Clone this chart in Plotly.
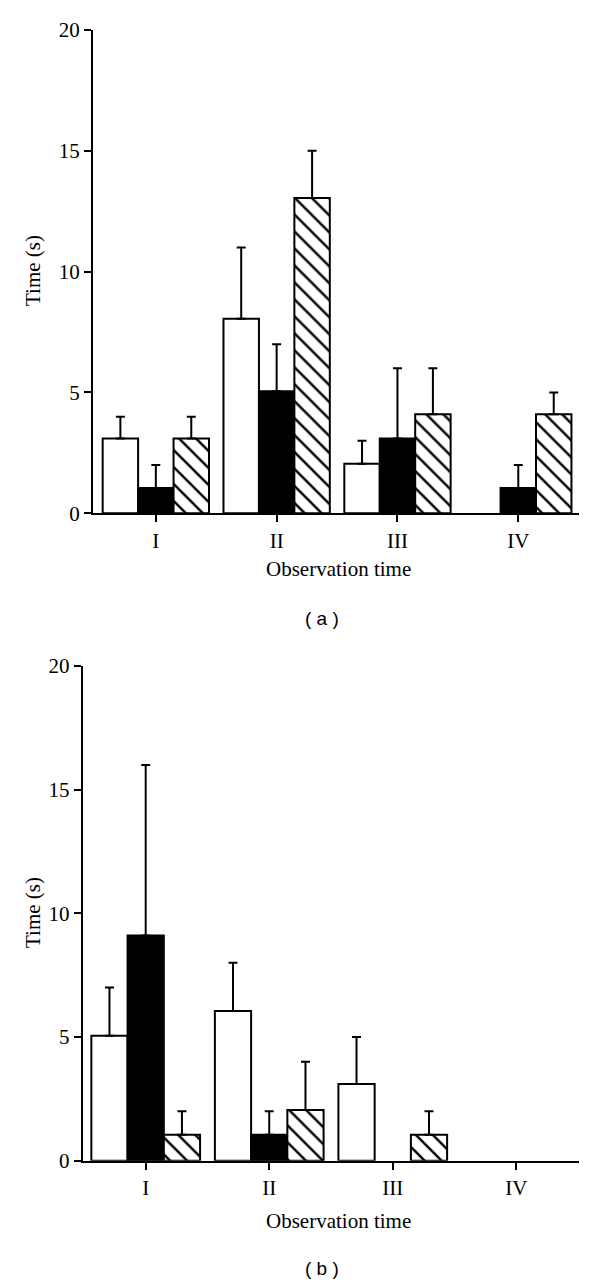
import plotly.graph_objects as go

categories = ["I", "II", "III", "IV"]

# Panel (a)
a_white = [3.1, 8.05, 2.05, 0]
a_black = [1.05, 5.05, 3.1, 1.05]
a_hatch = [3.1, 13.05, 4.1, 4.1]
a_white_top = [4, 11, 3, None]
a_black_top = [2, 7, 6, 2]
a_hatch_top = [4, 15, 6, 5]

# Panel (b)
b_white = [5.05, 6.05, 3.1, 0]
b_black = [9.1, 1.05, 0, 0]
b_hatch = [1.05, 2.05, 1.05, 0]
b_white_top = [7, 8, 5, None]
b_black_top = [16, 2, None, None]
b_hatch_top = [2, 4, 2, None]

y_ticks = [0, 5, 10, 15, 20]

OFF = 8  # page body margin
W, H = 600 - OFF, 1283 - OFF
SERIF = "Liberation Serif"
BLACK = "#000000"
FS = 21


def add_bars(fig, vals, tops, style, xa, ya):
    def marker_for(vs):
        m = dict(line=dict(color=BLACK, width=[2 if v > 0 else 0 for v in vs]))
        if style == "white":
            m["color"] = "white"
        elif style == "black":
            m["color"] = BLACK
        else:
            m["color"] = "white"
            m["pattern"] = dict(shape="\\", fgcolor=BLACK, bgcolor="white",
                                size=12, solidity=0.2, fillmode="replace")
        return m

    with_err = [i for i, t in enumerate(tops) if t is not None]
    no_err = [i for i, t in enumerate(tops) if t is None]
    if with_err:
        vs = [vals[i] for i in with_err]
        fig.add_trace(go.Bar(
            x=[categories[i] for i in with_err], y=vs, marker=marker_for(vs),
            xaxis=xa, yaxis=ya, offsetgroup=style, showlegend=False,
            error_y=dict(type="data", symmetric=False,
                         array=[tops[i] - vals[i] for i in with_err],
                         arrayminus=[0] * len(with_err), color=BLACK,
                         thickness=2, width=4.5, visible=True),
        ))
    if no_err:
        vs = [vals[i] for i in no_err]
        fig.add_trace(go.Bar(
            x=[categories[i] for i in no_err], y=vs, marker=marker_for(vs),
            xaxis=xa, yaxis=ya, offsetgroup=style, showlegend=False,
        ))


fig = go.Figure()
add_bars(fig, a_white, a_white_top, "white", "x", "y")
add_bars(fig, a_black, a_black_top, "black", "x", "y")
add_bars(fig, a_hatch, a_hatch_top, "hatch", "x", "y")
add_bars(fig, b_white, b_white_top, "white", "x2", "y2")
add_bars(fig, b_black, b_black_top, "black", "x2", "y2")
add_bars(fig, b_hatch, b_hatch_top, "hatch", "x2", "y2")


def px_y(p):
    return 1 - (p - OFF) / H


def px_x(p):
    return (p - OFF) / W


xcommon = dict(type="category", categoryorder="array", categoryarray=categories,
               showline=True, linecolor=BLACK, linewidth=2, ticks="outside",
               ticklen=7, tickwidth=2, tickcolor=BLACK, showgrid=False,
               zeroline=False, automargin=False,
               tickfont=dict(family=SERIF, size=FS, color=BLACK))
ycommon = dict(range=[0, 20], tickvals=y_ticks, showline=True, linecolor=BLACK,
               linewidth=2, ticks="outside", ticklen=7, tickwidth=2,
               tickcolor=BLACK, showgrid=False, zeroline=False, automargin=False,
               tickfont=dict(family=SERIF, size=FS, color=BLACK))

fig.update_layout(
    template="none",
    width=W, height=H, margin=dict(l=0, r=0, t=0, b=0, pad=0, autoexpand=False),
    paper_bgcolor="white", plot_bgcolor="white",
    barmode="group", bargap=0.12, bargroupgap=0,
    xaxis=dict(xcommon, domain=[px_x(93), px_x(579.3)], range=[-0.52, 3.505], anchor="y"),
    yaxis=dict(ycommon, domain=[px_y(513.3), px_y(30)], anchor="x"),
    xaxis2=dict(xcommon, domain=[px_x(82.7), px_x(579.3)], range=[-0.51, 3.51], anchor="y2"),
    yaxis2=dict(ycommon, domain=[px_y(1160.7), px_y(666)], anchor="x2"),
)

ann = []
for ycen in (271, 913):
    ann.append(dict(text="Time (s)", x=px_x(33), y=px_y(ycen), xref="paper", yref="paper",
                    showarrow=False, textangle=-90, xanchor="center", yanchor="middle",
                    font=dict(family=SERIF, size=FS, color=BLACK)))
for ycen, xc in ((569, 338), (1221, 338)):
    ann.append(dict(text="Observation time", x=px_x(xc), y=px_y(ycen), xref="paper",
                    yref="paper", showarrow=False, xanchor="center", yanchor="middle",
                    font=dict(family=SERIF, size=FS, color=BLACK)))
for txt, ycen in (("( a )", 618), ("( b )", 1268)):
    ann.append(dict(text=txt, x=px_x(322), y=px_y(ycen), xref="paper", yref="paper",
                    showarrow=False, xanchor="center", yanchor="middle",
                    font=dict(family="Liberation Sans", size=19, color=BLACK)))
fig.update_layout(annotations=ann)

fig.write_html("out.html")
